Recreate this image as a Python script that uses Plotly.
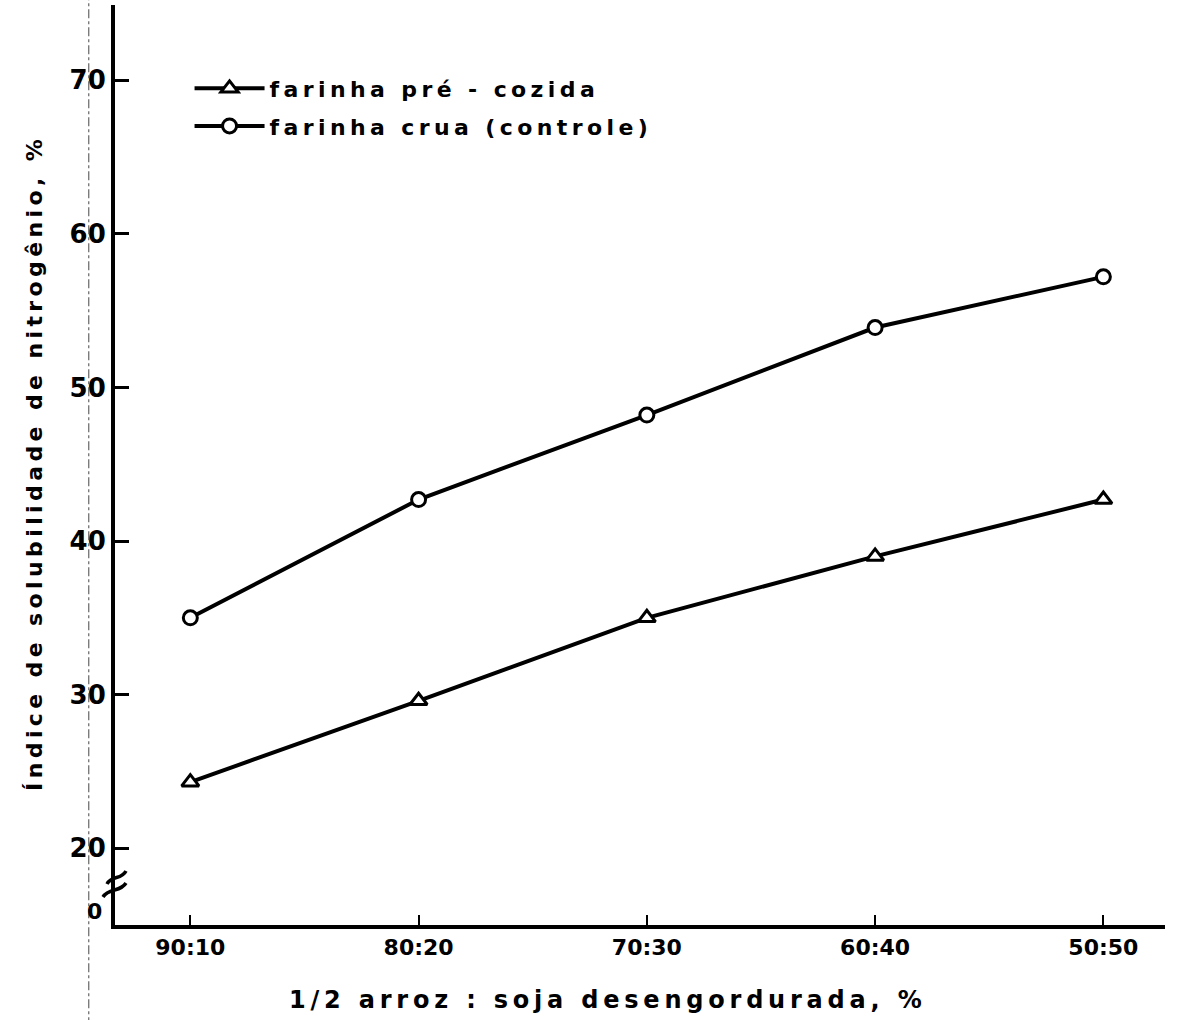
import plotly.graph_objects as go

# Proportions of 1/2 rice : defatted soy flour
categorias = ["90:10", "80:20", "70:30", "60:40", "50:50"]
posicoes = [0, 1, 2, 3, 4]

# Nitrogen solubility index (%)
pre_cozida = [24.3, 29.6, 35.0, 39.0, 42.7]
crua_controle = [35.0, 42.7, 48.2, 53.9, 57.2]

y_ticks = [20, 30, 40, 50, 60, 70]

FONT = "DejaVu Sans"
Y_MIN, Y_MAX = 15.0, 74.9


def espacado(texto):
    """Letter-spaced lettering, as in typewritten figure captions."""
    return "\u2009".join(texto)


fig = go.Figure()

fig.add_trace(go.Scatter(
    x=posicoes, y=pre_cozida, mode="lines+markers",
    name=espacado("farinha pré - cozida"), legendgroup="a",
    line=dict(color="black", width=4),
    marker=dict(symbol="triangle-up", size=15, color="white",
                line=dict(color="black", width=3)),
))
fig.add_trace(go.Scatter(
    x=posicoes, y=crua_controle, mode="lines+markers",
    name=espacado("farinha crua (controle)"), legendgroup="b",
    line=dict(color="black", width=4),
    marker=dict(symbol="circle", size=14, color="white",
                line=dict(color="black", width=3)),
))

fig.update_xaxes(
    range=[-0.33, 4.27],
    tickvals=posicoes, ticktext=categorias,
    ticks="inside", ticklen=10, tickwidth=2, tickcolor="black",
    showline=True, linecolor="black", linewidth=4,
    showgrid=False, zeroline=False,
    tickfont=dict(family=FONT, size=22, color="black", weight="bold"),
)
fig.update_yaxes(
    range=[Y_MIN, Y_MAX],
    tickvals=y_ticks, ticktext=[str(v) for v in y_ticks],
    ticks="inside", ticklen=14, tickwidth=3, tickcolor="black",
    showline=True, linecolor="black", linewidth=4,
    showgrid=False, zeroline=False,
    tickfont=dict(family=FONT, size=26, color="black", weight="bold"),
    title=dict(text=espacado("Índice de solubilidade de nitrogênio, %"),
               font=dict(family=FONT, size=22, color="black", weight="bold"),
               standoff=22),
)

# Horizontal axis caption
fig.add_annotation(x=0.467, xref="paper", y=-0.082, yref="paper",
                   text=espacado("1/2 arroz : soja desengordurada, %"),
                   showarrow=False, xanchor="center", yanchor="middle",
                   font=dict(family=FONT, size=24, color="black", weight="bold"))

# Suppressed zero of the value axis
fig.add_annotation(x=-0.0105, xref="paper", y=15.85, yref="y", text="0",
                   showarrow=False, xanchor="right", yanchor="middle",
                   font=dict(family=FONT, size=22, color="black", weight="bold"))

# Axis-break marks (two slanted tildes across the value axis)
def px_x(px):
    return (px - 115) / 1050


def px_y(py):
    return Y_MIN + (925 - py) / 15.36


def tilde(x0, y0, x1, y1, amp):
    mx, my = (x0 + x1) / 2, (y0 + y1) / 2
    c1 = ((x0 + mx) / 2, (y0 + my) / 2 - amp)
    c2 = ((mx + x1) / 2, (my + y1) / 2 + amp)
    pts = [(x0, y0), c1, c2, (x1, y1)]
    (a, b), (c, d), (e, f), (g, h) = [(px_x(p), px_y(q)) for p, q in pts]
    return f"M {a},{b} C {c},{d} {e},{f} {g},{h}"


for (x0, y0, x1, y1) in [(107, 884, 126, 871), (103, 897, 126, 883)]:
    fig.add_shape(type="path", xref="paper", yref="y",
                  path=tilde(x0, y0, x1, y1, 6),
                  line=dict(color="black", width=3.5))

# Faint dotted guide to the left of the value labels
fig.add_shape(type="line", xref="paper", yref="paper",
              x0=-0.025, x1=-0.025, y0=-0.11, y1=1.01,
              line=dict(color="#666666", width=1.2, dash="dashdot"))

fig.update_layout(
    width=1179, height=1020,
    margin=dict(l=115, r=14, t=5, b=95),
    paper_bgcolor="white", plot_bgcolor="white",
    showlegend=True,
    legend=dict(x=0.071, y=0.932, xanchor="left", yanchor="top",
                bgcolor="rgba(0,0,0,0)", itemwidth=70,
                font=dict(family=FONT, size=22, color="black", weight="bold"),
                tracegroupgap=6),
)

fig.write_html("out.html")
